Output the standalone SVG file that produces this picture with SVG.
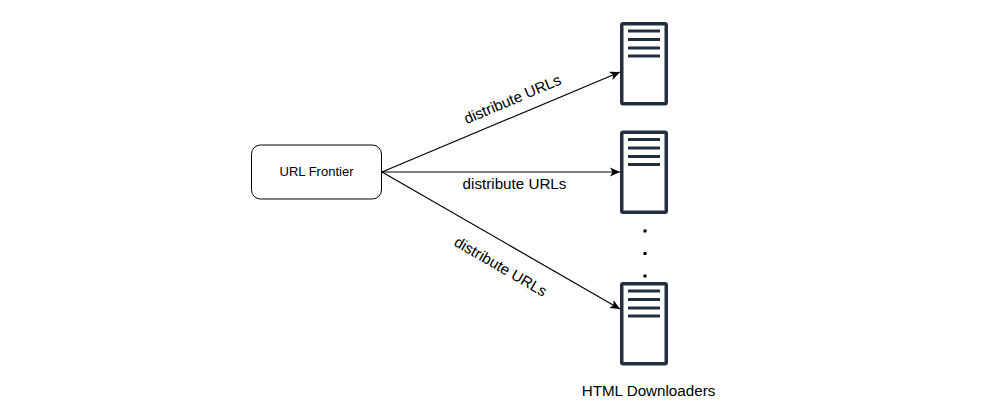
<svg xmlns="http://www.w3.org/2000/svg" width="997" height="420" viewBox="0 0 997 420">
<style>
text{font-family:"Liberation Sans",Arial,sans-serif;fill:#000}
.l{font-size:15.200px;text-anchor:middle}
.c{fill:none;stroke:#000;stroke-width:1.2}
.f{fill:#fff;stroke:#232f3e;stroke-width:3.500;stroke-linejoin:round}
.b{fill:#232f3e}
</style>
<defs>
<marker id="a" markerUnits="userSpaceOnUse" markerWidth="12" markerHeight="12" refX="10" refY="5" orient="auto" viewBox="0 0 12 10"><path d="M0 0.5L10 5L0 9.500L2.500 5Z" fill="#000"/></marker>
<g id="srv"><rect class="f" x="621.750" y="1.250" width="44.500" height="80" rx="1.500"/><rect class="b" x="628" y="7" width="32" height="3"/><rect class="b" x="628" y="15.500" width="32" height="3"/><rect class="b" x="628" y="24" width="32" height="3"/><rect class="b" x="628" y="32" width="32" height="3"/></g>
</defs>
<g id="connectors">
<path class="c" d="M382 172L620 72" marker-end="url(#a)"/>
<path class="c" d="M382 172H620" marker-end="url(#a)"/>
<path class="c" d="M382 172L620 309" marker-end="url(#a)"/>
</g>
<g id="url-frontier"><rect x="251.500" y="145" width="130" height="54" rx="9" fill="#fff" stroke="#000" stroke-width="1"/><text x="316.500" y="176" font-size="13" text-anchor="middle">URL Frontier</text></g>
<g id="server-1"><use href="#srv" y="22.500"/></g>
<g id="server-2"><use href="#srv" y="131"/></g>
<g id="server-3"><use href="#srv" y="282.500"/></g>
<g id="dots" fill="#000"><rect x="643.500" y="229.500" width="3" height="3"/><rect x="643.500" y="252" width="3" height="3"/><rect x="643.500" y="274.500" width="3" height="3"/></g>
<text class="l" id="label-1" transform="translate(514.500 104) rotate(-23)">distribute URLs</text>
<text class="l" id="label-2" x="514.500" y="189">distribute URLs</text>
<text class="l" id="label-3" transform="translate(498 271) rotate(30)">distribute URLs</text>
<text class="l" id="label-4" x="648.500" y="396">HTML Downloaders</text>
</svg>
